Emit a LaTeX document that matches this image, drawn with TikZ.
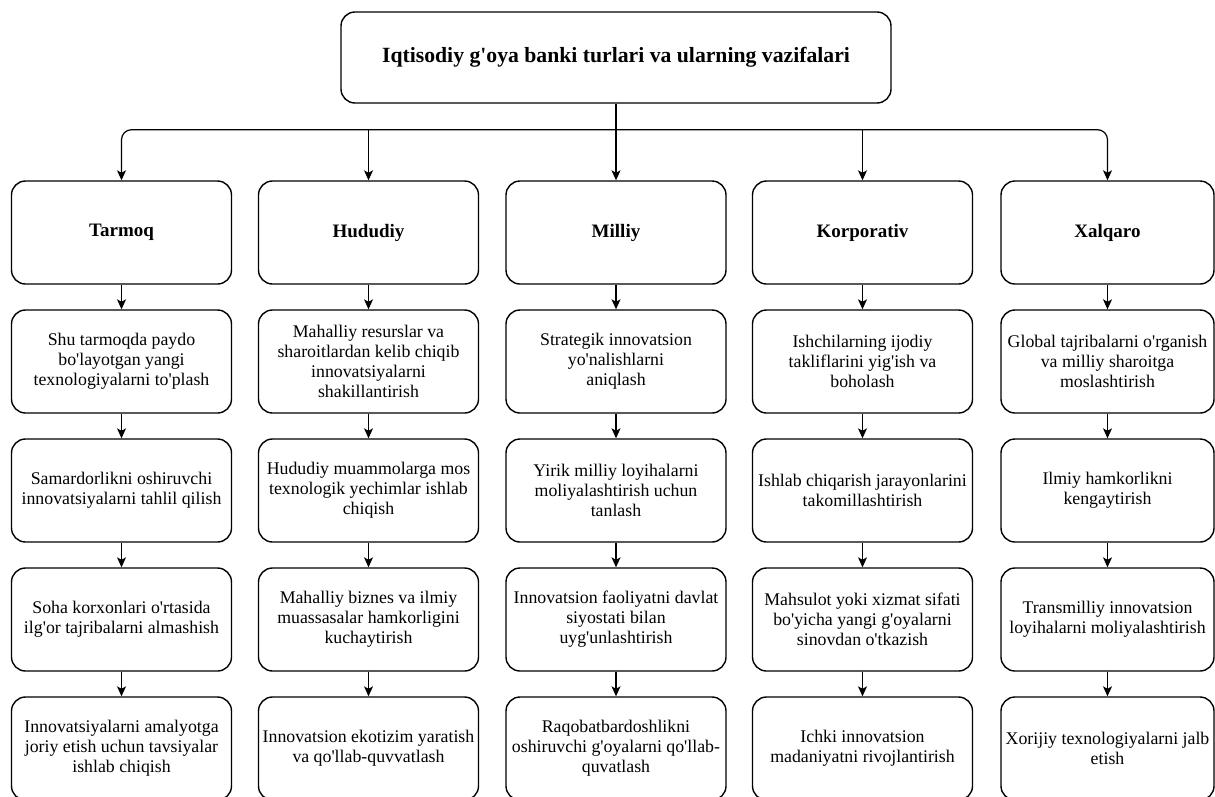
\documentclass[tikz,border=0pt]{standalone}
\usepackage{fontspec}
\setmainfont{Liberation Serif}[Ligatures=TeXOff]
\usetikzlibrary{arrows.meta}
\begin{document}
\begin{tikzpicture}[x=1pt,y=-1pt,
  box/.style={draw=black, line width=1.4pt, rounded corners=14pt, minimum width=220pt, minimum height=103pt,
    align=center, inner sep=2pt, font=\fontsize{17.8}{20}\selectfont},
  lastbox/.style={box, minimum width=213pt},
  headbox/.style={font=\fontsize{19}{22}\selectfont\bfseries},
  titlebox/.style={draw=black, line width=1.4pt, rounded corners=14pt, minimum width=550pt, minimum height=91pt,
    align=center, font=\fontsize{21.7}{25}\selectfont\bfseries},
  arr/.style={draw=black, line width=1.2pt, -{Stealth[length=10pt,width=9pt,inset=2.5pt]}}
]
\useasboundingbox (0,0) rectangle (1215,796);
\clip (0,0) rectangle (1215,796);

\node[titlebox] (title) at (616,57.5) {Iqtisodiy g'oya banki turlari va ularning vazifalari};

% header row
\node[box,headbox] (h1) at (121.5,232.5) {Tarmoq};
\node[box,headbox] (h2) at (368.5,232.5) {Hududiy};
\node[box,headbox] (h3) at (616,232.5) {Milliy};
\node[box,headbox] (h4) at (862.5,232.5) {Korporativ};
\node[lastbox,headbox] (h5) at (1107.5,232.5) {Xalqaro};

% row 1
\node[box] (a1) at (121.5,361.5) {Shu tarmoqda paydo\\bo'layotgan yangi\\texnologiyalarni to'plash};
\node[box] (a2) at (368.5,361.5) {Mahalliy resurslar va\\sharoitlardan kelib chiqib\\innovatsiyalarni\\shakillantirish};
\node[box] (a3) at (616,361.5) {Strategik innovatsion\\yo'nalishlarni\\aniqlash};
\node[box] (a4) at (862.5,361.5) {Ishchilarning ijodiy\\takliflarini yig'ish va\\boholash};
\node[lastbox] (a5) at (1107.5,361.5) {Global tajribalarni o'rganish\\va milliy sharoitga\\moslashtirish};

% row 2
\node[box] (b1) at (121.5,490.5) {Samardorlikni oshiruvchi\\innovatsiyalarni tahlil qilish};
\node[box] (b2) at (368.5,490.5) {Hududiy muammolarga mos\\texnologik yechimlar ishlab\\chiqish};
\node[box] (b3) at (616,490.5) {Yirik milliy loyihalarni\\moliyalashtirish uchun\\tanlash};
\node[box] (b4) at (862.5,490.5) {Ishlab chiqarish jarayonlarini\\takomillashtirish};
\node[lastbox] (b5) at (1107.5,490.5) {Ilmiy hamkorlikni\\kengaytirish};

% row 3
\node[box] (c1) at (121.5,619.5) {Soha korxonlari o'rtasida\\ilg'or tajribalarni almashish};
\node[box] (c2) at (368.5,619.5) {Mahalliy biznes va ilmiy\\muassasalar hamkorligini\\kuchaytirish};
\node[box] (c3) at (616,619.5) {Innovatsion faoliyatni davlat\\siyostati bilan\\uyg'unlashtirish};
\node[box] (c4) at (862.5,619.5) {Mahsulot yoki xizmat sifati\\bo'yicha yangi g'oyalarni\\sinovdan o'tkazish};
\node[lastbox] (c5) at (1107.5,619.5) {Transmilliy innovatsion\\loyihalarni moliyalashtirish};

% row 4
\node[box] (d1) at (121.5,748.5) {Innovatsiyalarni amalyotga\\joriy etish uchun tavsiyalar\\ishlab chiqish};
\node[box] (d2) at (368.5,748.5) {Innovatsion ekotizim yaratish\\va qo'llab-quvvatlash};
\node[box] (d3) at (616,748.5) {Raqobatbardoshlikni\\oshiruvchi g'oyalarni qo'llab-\\quvatlash};
\node[box] (d4) at (862.5,748.5) {Ichki innovatsion\\madaniyatni rivojlantirish};
\node[lastbox] (d5) at (1107.5,748.5) {Xorijiy texnologiyalarni jalb\\etish};

% trunk and bus
\coordinate (bus) at ([yshift=-26pt]title.south);
\draw[arr] (title.south) -- (h3.north);
\draw[arr, rounded corners=10pt] (bus) -| (h1.north);
\draw[arr, rounded corners=10pt] (bus) -| (h5.north);
\draw[arr] (bus -| h2.north) -- (h2.north);
\draw[arr] (bus -| h4.north) -- (h4.north);

% column arrows
\foreach \c in {1,...,5}{
  \draw[arr] (h\c.south) -- (a\c.north);
  \draw[arr] (a\c.south) -- (b\c.north);
  \draw[arr] (b\c.south) -- (c\c.north);
  \draw[arr] (c\c.south) -- (d\c.north);
}
\end{tikzpicture}
\end{document}
